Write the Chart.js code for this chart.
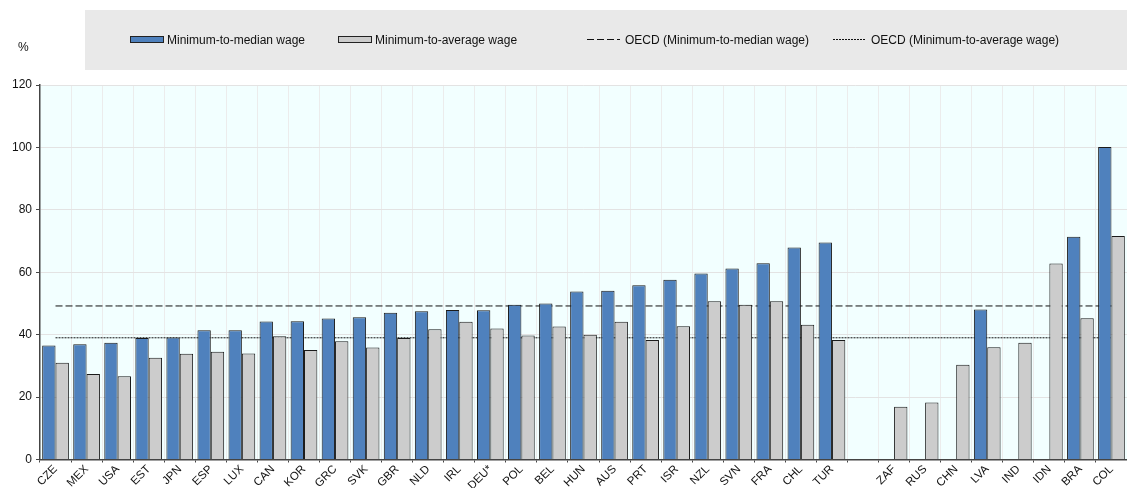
<!DOCTYPE html>
<html>
<head>
<meta charset="utf-8">
<script src="https://cdn.jsdelivr.net/npm/chart.js@4.4.1/dist/chart.umd.min.js"></script>
<style>
    html, body { margin: 0; padding: 0; background: #fff; }
    body { font-family: "Liberation Sans", Arial, sans-serif; }
    #wrap { position: relative; width: 1127px; height: 488px; }
    #legend { position: absolute; left: 85px; top: 10px; width: 1042px; height: 60px; background: #e9e9e9; }
    .item { position: absolute; top: 22px; font-size: 12px; color: #111; white-space: nowrap; line-height: 16px; }
    .swatch { display: inline-block; width: 32px; height: 5px; border: 1px solid #222; vertical-align: middle; margin-right: 3px; position: relative; top: -1px; }
    .lineSample { display: inline-block; width: 33px; height: 1px; vertical-align: middle; margin-right: 5px; position: relative; top: -1px; }
    #unit { position: absolute; left: 18px; top: 40px; font-size: 12px; color: #111; }
    canvas { display: block; }
</style>
</head>
<body>
<div id="wrap">
    <canvas id="wageChart" width="1127" height="488"></canvas>
    <div id="legend">
        <div class="item" style="left:45px"><span class="swatch" style="background:#4f81bd"></span>Minimum-to-median wage</div>
        <div class="item" style="left:253px"><span class="swatch" style="background:#cccccc"></span>Minimum-to-average wage</div>
        <div class="item" style="left:502px"><span class="lineSample" style="background:repeating-linear-gradient(90deg,#111 0 7px,transparent 7px 10px)"></span>OECD (Minimum-to-median wage)</div>
        <div class="item" style="left:748px"><span class="lineSample" style="background:repeating-linear-gradient(90deg,#111 0 2px,transparent 2px 3px)"></span>OECD (Minimum-to-average wage)</div>
    </div>
    <div id="unit">%</div>
</div>
<script>
// Datos
const countries = ['CZE', 'MEX', 'USA', 'EST', 'JPN', 'ESP', 'LUX', 'CAN', 'KOR', 'GRC', 'SVK', 'GBR', 'NLD',
    'IRL', 'DEU*', 'POL', 'BEL', 'HUN', 'AUS', 'PRT', 'ISR', 'NZL', 'SVN', 'FRA', 'CHL', 'TUR',
    '', 'ZAF', 'RUS', 'CHN', 'LVA', 'IND', 'IDN', 'BRA', 'COL'];
const medianRatio = [36.5, 36.9, 37.4, 38.9, 39.1, 41.4, 41.4, 44.2, 44.3, 45.2, 45.6, 47.0, 47.5,
    47.9, 47.8, 49.6, 50.0, 53.8, 54.1, 55.8, 57.6, 59.6, 61.2, 62.9, 67.9, 69.5,
    null, null, null, null, 48.1, null, null, 71.4, 100.1];
const averageRatio = [31.0, 27.4, 26.7, 32.6, 33.9, 34.5, 34.0, 39.5, 35.1, 37.9, 35.9, 38.9, 41.7,
    44.1, 42.0, 39.7, 42.6, 40.0, 44.1, 38.3, 42.7, 50.7, 49.6, 50.7, 43.2, 38.3,
    null, 16.9, 18.3, 30.4, 36.0, 37.4, 62.8, 45.3, 71.6];
const oecdMedian = 49.2;
const oecdAverage = 39.0;
const yTicks = [0, 20, 40, 60, 80, 100, 120];

// fondo del área del gráfico
const plotBackground = {
    id: 'plotBackground',
    beforeDraw(chart) {
        const { ctx, chartArea } = chart;
        ctx.save();
        ctx.fillStyle = '#f2ffff';
        ctx.fillRect(chartArea.left, chartArea.top, chartArea.right - chartArea.left, chartArea.bottom - chartArea.top);
        ctx.restore();
    }
};

new Chart(document.getElementById('wageChart'), {
    type: 'bar',
    data: {
        labels: countries,
        datasets: [
            {
                label: 'Minimum-to-median wage',
                data: medianRatio,
                backgroundColor: '#4f81bd',
                borderColor: '#1a1a1a',
                borderWidth: 1,
                categoryPercentage: 0.86,
                barPercentage: 1.0,
                order: 1
            },
            {
                label: 'Minimum-to-average wage',
                data: averageRatio,
                backgroundColor: '#cccccc',
                borderColor: '#1a1a1a',
                borderWidth: 1,
                categoryPercentage: 0.86,
                barPercentage: 1.0,
                order: 1
            },
            {
                type: 'line',
                label: 'OECD (Minimum-to-median wage)',
                data: countries.map(() => oecdMedian),
                borderColor: '#111',
                borderWidth: 1,
                borderDash: [7, 3],
                pointRadius: 0,
                order: 3
            },
            {
                type: 'line',
                label: 'OECD (Minimum-to-average wage)',
                data: countries.map(() => oecdAverage),
                borderColor: '#111',
                borderWidth: 1,
                borderDash: [2, 1],
                pointRadius: 0,
                order: 3
            }
        ]
    },
    options: {
        responsive: false,
        animation: false,
        layout: { padding: { top: 85, right: 0, left: 0, bottom: 0 } },
        plugins: {
            legend: { display: false },
            tooltip: { enabled: false }
        },
        scales: {
            x: {
                offset: true,
                grid: { color: '#ececec', tickColor: '#444', tickLength: 3, offset: true },
                border: { color: '#444', width: 1.5 },
                ticks: {
                    autoSkip: false,
                    maxRotation: 45,
                    minRotation: 45,
                    color: '#111',
                    padding: 0,
                    font: { family: 'Liberation Sans', size: 11.5 }
                },
                afterFit(scale) { scale.height = 28.5; }
            },
            y: {
                min: 0,
                max: 120,
                afterBuildTicks(scale) { scale.ticks = yTicks.map(v => ({ value: v })); },
                grid: { color: '#e3e3e3', tickColor: '#444', tickLength: 4 },
                border: { color: '#444', width: 1.5 },
                ticks: {
                    color: '#111',
                    padding: 4,
                    font: { family: 'Liberation Sans', size: 12 }
                },
                afterFit(scale) { scale.width = 40; }
            }
        }
    },
    plugins: [plotBackground]
});
</script>
</body>
</html>
